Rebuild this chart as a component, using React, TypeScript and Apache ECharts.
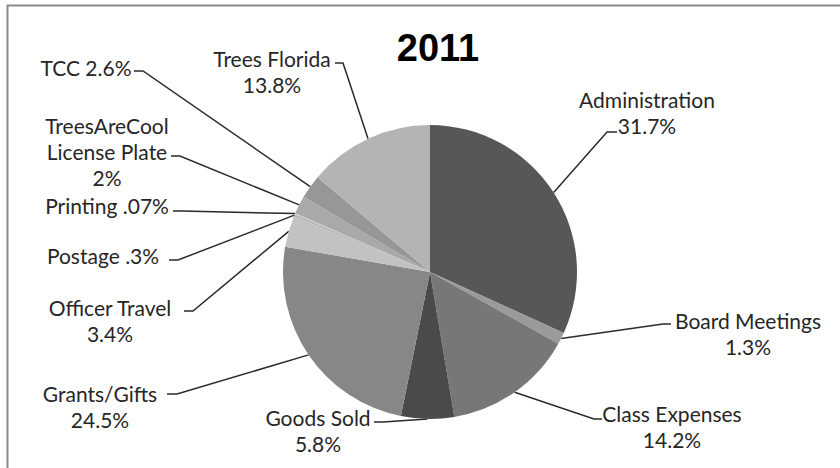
import React, { useEffect, useRef } from "react";
import * as echarts from "echarts";

const categories = [
  "Administration",
  "Board Meetings",
  "Class Expenses",
  "Goods Sold",
  "Grants/Gifts",
  "Officer Travel",
  "Postage",
  "Printing",
  "TreesAreCool License Plate",
  "TCC",
  "Trees Florida",
];
const values = [31.7, 1.3, 14.2, 5.8, 24.5, 3.4, 0.3, 0.07, 2, 2.6, 13.8];
const labelTexts = [
  "Administration\n31.7%",
  "Board Meetings\n1.3%",
  "Class Expenses\n14.2%",
  "Goods Sold\n5.8%",
  "Grants/Gifts\n24.5%",
  "Officer Travel\n3.4%",
  "Postage .3%",
  "Printing .07%",
  "TreesAreCool\nLicense Plate\n2%",
  "TCC 2.6%",
  "Trees Florida\n13.8%",
];
const sliceColors = [
  "#575757",
  "#9a9a9a",
  "#777777",
  "#4a4a4a",
  "#878787",
  "#c2c2c2",
  "#b6b6b6",
  "#d2d2d2",
  "#a9a9a9",
  "#979797",
  "#b4b4b4",
];
const chartTitle = "2011";

// label layout (pixel positions of label centres and leader-line bends)
const labelCenters: number[][] = [
  [647, 112],
  [748, 333],
  [672, 426],
  [318, 430],
  [100, 406],
  [110, 320],
  [103, 255],
  [107, 205],
  [107, 151],
  [86, 67],
  [272, 71],
];
const lineBends: number[][][] = [
  [[607, 132], [617, 132]],
  [[663, 324], [671, 324]],
  [[594, 419], [602, 419]],
  [[383, 422], [374, 422]],
  [[177, 394], [167, 394]],
  [[193, 311], [184, 311]],
  [[178, 260], [169, 260]],
  [[182, 211], [173, 211]],
  [[180, 156], [171, 156]],
  [[143, 71], [134, 71]],
  [[343, 63], [335, 63]],
];

export default function App() {
  const ref = useRef<HTMLDivElement>(null);
  useEffect(() => {
    document.body.style.margin = "0";
    const chart = echarts.init(ref.current!, null, { renderer: "svg" });
    chart.setOption({
      animation: false,
      backgroundColor: "#ffffff",
      graphic: [
        {
          type: "rect",
          shape: { x: 7.5, y: 5.5, width: 900, height: 600 },
          style: { fill: "none", stroke: "#8a8a8a", lineWidth: 2 },
          silent: true,
        },
        {
          type: "text",
          x: 438,
          y: 48,
          style: {
            text: chartTitle,
            fill: "#000000",
            font: "bold 38px 'Liberation Sans', Arial, sans-serif",
            align: "center",
            verticalAlign: "middle",
          },
        },
      ],
      series: [
        {
          type: "pie",
          center: [430, 272],
          radius: 147,
          startAngle: 90,
          clockwise: true,
          avoidLabelOverlap: false,
          data: categories.map((c, i) => ({
            name: c,
            value: values[i],
            itemStyle: { color: sliceColors[i] },
          })),
          label: {
            show: true,
            position: "outside",
            formatter: (p: any) => labelTexts[p.dataIndex],
            fontFamily: "Lato",
            fontSize: 21,
            lineHeight: 26,
            color: "#262626",
            align: "center",
          },
          labelLine: {
            show: true,
            lineStyle: { color: "#2a2a2a", width: 1.5 },
          },
          labelLayout: (params: any) => {
            const i = params.dataIndex;
            const start = params.labelLinePoints
              ? params.labelLinePoints[0]
              : [430, 272];
            return {
              x: labelCenters[i][0],
              y: labelCenters[i][1],
              align: "center",
              verticalAlign: "middle",
              labelLinePoints: [start, lineBends[i][0], lineBends[i][1]],
            };
          },
        },
      ],
    });
    return () => chart.dispose();
  }, []);
  return (
    <div
      ref={ref}
      style={{ position: "absolute", left: 0, top: 0, width: 840, height: 468 }}
    />
  );
}
